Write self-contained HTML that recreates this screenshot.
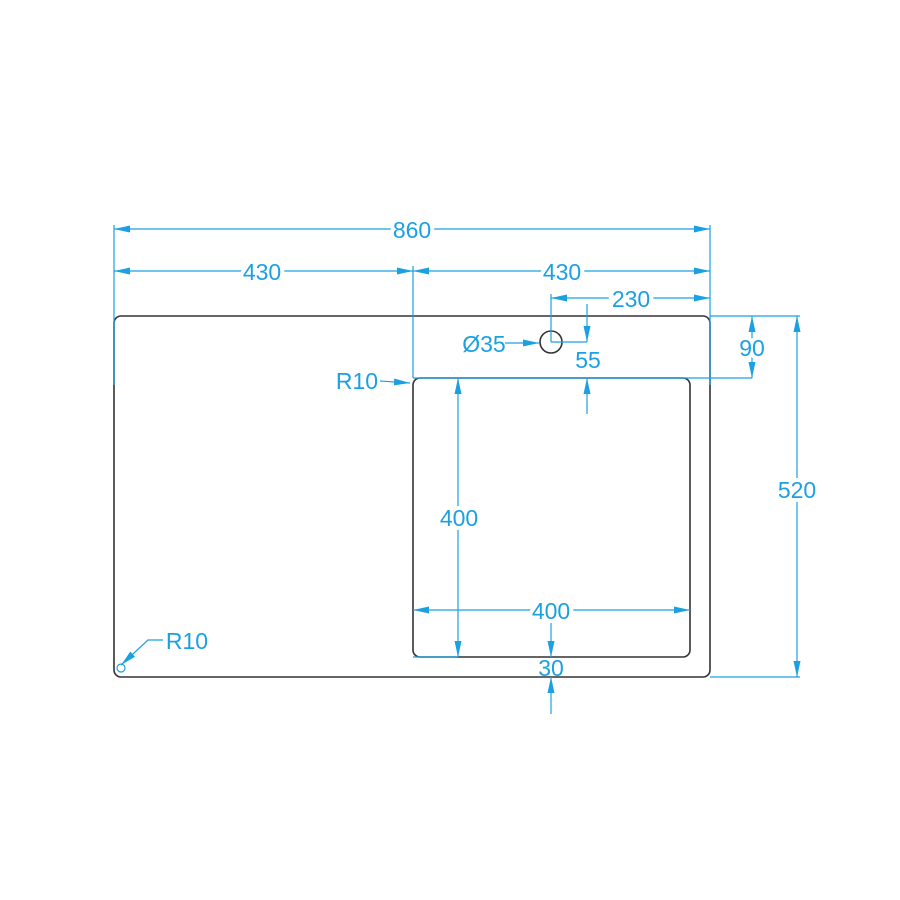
<!DOCTYPE html>
<html><head><style>body{margin:0;background:#fff}svg{display:block}</style></head><body>
<svg width="900" height="900" viewBox="0 0 900 900" xmlns="http://www.w3.org/2000/svg">
<defs>
<marker id="a" viewBox="0 0 16 8" refX="16" refY="4" markerWidth="16" markerHeight="8" orient="auto-start-reverse" markerUnits="userSpaceOnUse"><path d="M0,0.5 L16,4 L0,7.5 z" fill="#1ba1e2"/></marker>
</defs>
<g fill="none" stroke="#333" stroke-width="1.6">
<rect x="114" y="316" width="596" height="361" rx="7"/>
<rect x="413" y="378" width="277" height="279" rx="7"/>
<circle cx="551" cy="342" r="11"/>
</g>
<g fill="none" stroke="#1ba1e2" stroke-width="1.2">
<line x1="114" y1="225" x2="114" y2="385"/>
<line x1="710" y1="225" x2="710" y2="385"/>
<line x1="413" y1="266" x2="413" y2="378"/>
<line x1="551" y1="294" x2="551" y2="342"/>
<line x1="551" y1="342" x2="587" y2="342"/>
<line x1="710" y1="316" x2="800" y2="316"/>
<line x1="413" y1="378" x2="752" y2="378"/>
<line x1="710" y1="677" x2="800" y2="677"/>
<line x1="413" y1="657" x2="458" y2="657"/>
<line x1="114" y1="229" x2="710" y2="229" marker-start="url(#a)" marker-end="url(#a)"/>
<line x1="114" y1="271" x2="413" y2="271" marker-start="url(#a)" marker-end="url(#a)"/>
<line x1="413" y1="271" x2="710" y2="271" marker-start="url(#a)" marker-end="url(#a)"/>
<line x1="551" y1="298" x2="710" y2="298" marker-start="url(#a)" marker-end="url(#a)"/>
<line x1="587" y1="304" x2="587" y2="342" marker-end="url(#a)"/>
<line x1="587" y1="414" x2="587" y2="378" marker-end="url(#a)"/>
<line x1="752" y1="316" x2="752" y2="378" marker-start="url(#a)" marker-end="url(#a)"/>
<line x1="797" y1="316" x2="797" y2="677" marker-start="url(#a)" marker-end="url(#a)"/>
<line x1="458" y1="378" x2="458" y2="657" marker-start="url(#a)" marker-end="url(#a)"/>
<line x1="413" y1="610" x2="690" y2="610" marker-start="url(#a)" marker-end="url(#a)"/>
<line x1="551" y1="620" x2="551" y2="657" marker-end="url(#a)"/>
<line x1="551" y1="714" x2="551" y2="677" marker-end="url(#a)"/>
<line x1="505" y1="343" x2="539" y2="343" marker-end="url(#a)"/>
<line x1="380" y1="381" x2="410" y2="383" marker-end="url(#a)"/>
<polyline points="163,640 148,640 121,665" marker-end="url(#a)"/>
<circle cx="121" cy="668" r="4"/>
</g>
<g fill="#1ba1e2" font-family="Liberation Sans, sans-serif" font-size="23" text-anchor="middle">
<text x="412" y="238" style="paint-order:stroke" stroke="#fff" stroke-width="8">860</text>
<text x="262" y="280" style="paint-order:stroke" stroke="#fff" stroke-width="8">430</text>
<text x="562" y="280" style="paint-order:stroke" stroke="#fff" stroke-width="8">430</text>
<text x="631" y="307" style="paint-order:stroke" stroke="#fff" stroke-width="8">230</text>
<text x="484" y="352">Ø35</text>
<text x="588" y="368">55</text>
<text x="752" y="356" style="paint-order:stroke" stroke="#fff" stroke-width="8">90</text>
<text x="797" y="498" style="paint-order:stroke" stroke="#fff" stroke-width="8">520</text>
<text x="357" y="389">R10</text>
<text x="459" y="526" style="paint-order:stroke" stroke="#fff" stroke-width="8">400</text>
<text x="551" y="619" style="paint-order:stroke" stroke="#fff" stroke-width="8">400</text>
<text x="551" y="676">30</text>
<text x="187" y="649">R10</text>
</g>
</svg>
</body></html>
